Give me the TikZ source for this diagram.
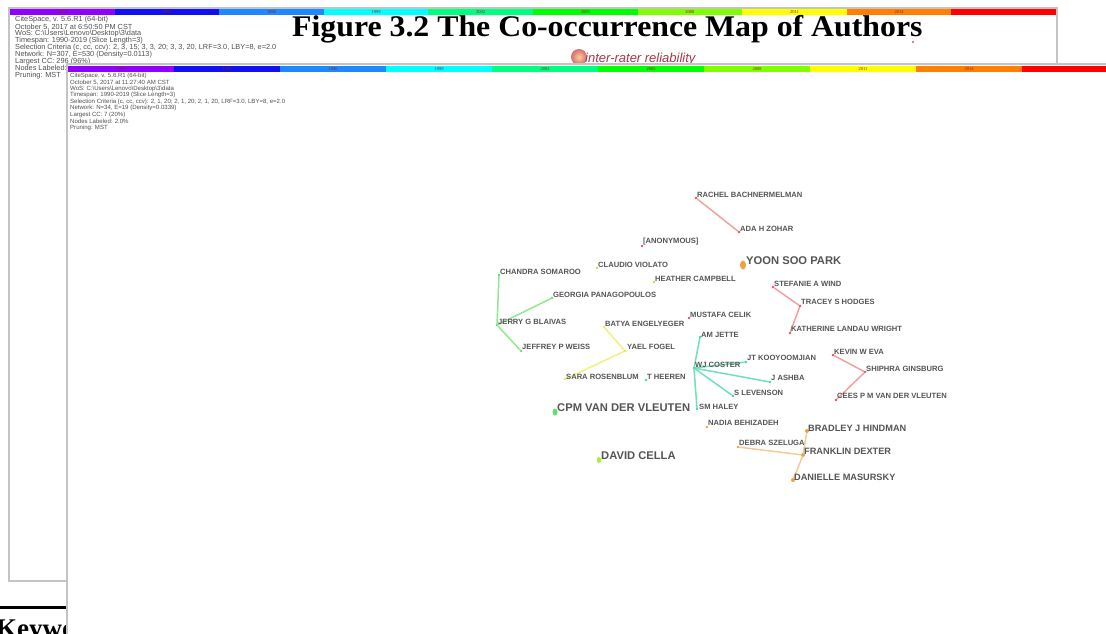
\documentclass[tikz,border=0pt]{standalone}
\usepackage{fontspec}
\setmainfont{Liberation Serif}
\newfontfamily\arial{Liberation Sans}
\usetikzlibrary{shapes.geometric}
\definecolor{frame}{HTML}{C4C4C4}
\definecolor{hdr}{HTML}{505050}
\definecolor{lblgray}{HTML}{555555}
\definecolor{yrlab}{HTML}{8A2020}
\definecolor{cPurple}{HTML}{9000FF}
\definecolor{cBlue}{HTML}{1010F0}
\definecolor{cLBlue}{HTML}{1E88FF}
\definecolor{cCyan}{HTML}{00FFFF}
\definecolor{cAqua}{HTML}{00FF80}
\definecolor{cGreen}{HTML}{00FF00}
\definecolor{cYG}{HTML}{80FF00}
\definecolor{cYellow}{HTML}{FFFF00}
\definecolor{cOrange}{HTML}{FF8000}
\definecolor{cRed}{HTML}{FF0000}
\definecolor{ePink}{HTML}{F2A0A4}
\definecolor{eGreen}{HTML}{90E890}
\definecolor{eYellow}{HTML}{F2F080}
\definecolor{eMint}{HTML}{70E0C0}
\definecolor{eOrange}{HTML}{F8C898}
\definecolor{dRed}{HTML}{E05060}
\definecolor{dGreen}{HTML}{60E070}
\definecolor{dYG}{HTML}{A8F040}
\definecolor{dYellow}{HTML}{E8E840}
\definecolor{dMint}{HTML}{40D8A0}
\definecolor{dOrange}{HTML}{F0A040}
\definecolor{irr}{HTML}{A83848}
\tikzset{
  lbl/.style={anchor=west, inner sep=0pt, text=lblgray, font=\arial\bfseries\fontsize{7.6}{8}\selectfont},
  lblm/.style={lbl, font=\arial\bfseries\fontsize{9.2}{10}\selectfont},
  lblb/.style={lbl, font=\arial\bfseries\fontsize{11.2}{12}\selectfont},
  dot/.style={circle, inner sep=0pt, minimum size=2.8pt, fill=#1},
  bigdot/.style={ellipse, inner sep=0pt, minimum width=6pt, minimum height=9pt, fill=#1},
  edge/.style={line width=1.5pt, draw=#1, line cap=round},
  hdrA/.style={anchor=west, inner sep=0pt, text=hdr, font=\arial\fontsize{7.35}{8}\selectfont},
  hdrB/.style={anchor=west, inner sep=0pt, text=hdr, font=\arial\fontsize{6.05}{6.5}\selectfont},
  yr/.style={inner sep=0pt, text=yrlab, font=\fontsize{4.5}{5}\selectfont},
  winframe/.style={draw=frame, line width=2pt, fill=white},
}
\begin{document}
\begin{tikzpicture}[x=1pt,y=-1pt]
\useasboundingbox (0,0) rectangle (1106,634);
\clip (0,0) rectangle (1106,634);
% ---------- first window ----------
\draw[winframe] (9,8) rectangle (1057,581);
\foreach \c [count=\i from 0] in {cPurple,cBlue,cLBlue,cCyan,cAqua,cGreen,cYG,cYellow,cOrange,cRed}{
  \fill[\c] (10+\i*104.6,9) rectangle (10+\i*104.6+104.6,15);
}
\foreach \y [count=\i from 0] in {1990,1993,1996,1999,2002,2005,2008,2011,2014}{
  \node[yr] (ya\i) at (62.3+\i*104.6,12) {\y};
}
\foreach \t [count=\i from 0] in {
  {CiteSpace, v. 5.6.R1 (64-bit)},
  {October 5, 2017 at 6:50:50 PM CST},
  {WoS: C:\textbackslash Users\textbackslash Lenovo\textbackslash Desktop\textbackslash 3\textbackslash data},
  {Timespan: 1990-2019 (Slice Length=3)},
  {Selection Criteria (c, cc, ccv): 2, 3, 15; 3, 3, 20; 3, 3, 20, LRF=3.0, LBY=8, e=2.0},
  {Network: N=307, E=530 (Density=0.0113)},
  {Largest CC: 296 (96\%)},
  {Nodes Labeled: 2.0\%},
  {Pruning: MST}}{
  \node[hdrA] (ha\i) at (15,20+\i*6.9) {\t};
}
\node[anchor=base west, inner sep=0pt, font=\bfseries\fontsize{30}{31}\selectfont] (title) at (292,37) {\scalebox{1.06}[1]{Figure 3.2 The Co-occurrence Map of Authors}};
\fill[dRed] (913,42) circle (1.1);
\shade[inner color=orange!55, outer color=red!70!black!80, opacity=0.7] (579,57) circle (8);
\node[anchor=base west, inner sep=0pt, text=irr, font=\arial\itshape\fontsize{13}{14}\selectfont] (irrlbl) at (585,62.5) {inter-rater reliability};
% bottom-left remnants
\draw[line width=2.7pt] (0,607.3) -- (67,607.3);
\node[anchor=base west, inner sep=0pt, font=\bfseries\fontsize{27}{28}\selectfont] (kw) at (-4,637) {Keywords};
% ---------- second window ----------
\draw[winframe] (67,64) rectangle (1130,660);
\foreach \c [count=\i from 0] in {cPurple,cBlue,cLBlue,cCyan,cAqua,cGreen,cYG,cYellow,cOrange,cRed}{
  \fill[\c] (68+\i*106,66.5) rectangle (68+\i*106+106,72);
}
\foreach \y [count=\i from 0] in {1990,1993,1996,1999,2002,2005,2008,2011,2014}{
  \node[yr] (yb\i) at (121+\i*106,69.3) {\y};
}
\foreach \t [count=\i from 0] in {
  {CiteSpace, v. 5.6.R1 (64-bit)},
  {October 5, 2017 at 11:27:40 AM CST},
  {WoS: C:\textbackslash Users\textbackslash Lenovo\textbackslash Desktop\textbackslash 3\textbackslash data},
  {Timespan: 1990-2019 (Slice Length=3)},
  {Selection Criteria (c, cc, ccv): 2, 1, 20; 2, 1, 20; 2, 1, 20, LRF=3.0, LBY=8, e=2.0},
  {Network: N=34, E=19 (Density=0.0339)},
  {Largest CC: 7 (20\%)},
  {Nodes Labeled: 2.0\%},
  {Pruning: MST}}{
  \node[hdrB] (hb\i) at (70,76+\i*6.45) {\t};
}
% ---------- dots ----------
\node[dot=dRed] (rb) at (696,198) {};
\node[dot=dRed] (az) at (739,232) {};
\node[dot=dRed] (an) at (642,246) {};
\node[bigdot=dOrange] (ys) at (743,265) {};
\node[dot=dYG] (cv) at (597,268) {};
\node[dot=dGreen] (cs) at (499,275) {};
\node[dot=dYG] (hc) at (654,282) {};
\node[dot=dGreen] (gp) at (552,298) {};
\node[dot=dRed] (mc) at (689,318) {};
\node[dot=dGreen] (jb) at (497,325) {};
\node[dot=dYellow] (be) at (604,327) {};
\node[dot=dMint] (aj) at (700,337) {};
\node[dot=dGreen] (jw) at (521,351) {};
\node[dot=dYellow] (yf) at (625,351) {};
\node[dot=dMint] (wj) at (694,368) {};
\node[dot=dMint] (th) at (646,380) {};
\node[dot=dMint] (jt) at (746,362) {};
\node[dot=dMint] (ja) at (770,382) {};
\node[dot=dMint] (sl) at (733,396) {};
\node[dot=dMint] (sm) at (697,409) {};
\node[dot=dYellow] (sr) at (565,379) {};
\node[bigdot=dGreen, minimum width=5pt, minimum height=7pt] (cp) at (555,412) {};
\node[dot=dOrange] (nb) at (707,427) {};
\node[dot=dOrange, minimum size=4pt] (bh) at (807,431) {};
\node[dot=dOrange] (ds) at (738,447) {};
\node[dot=dOrange, minimum size=4pt] (fd) at (803,455) {};
\node[bigdot=dYG, minimum width=4.5pt, minimum height=6pt] (dc) at (599,460) {};
\node[dot=dOrange, minimum size=4pt] (dm) at (793,480) {};
\node[dot=dRed] (sw) at (773,287) {};
\node[dot=dRed] (tsh) at (800,306) {};
\node[dot=dRed] (kl) at (790,333) {};
\node[dot=dRed] (ke) at (833,355) {};
\node[dot=dRed] (sg) at (865,372) {};
\node[dot=dRed] (cc) at (836,400) {};
% ---------- edges ----------
\draw[edge=ePink] (rb) -- (az);
\draw[edge=ePink] (sw) -- (tsh) -- (kl);
\draw[edge=ePink] (ke) -- (sg) -- (cc);
\draw[edge=eGreen] (cs) -- (jb);
\draw[edge=eGreen] (gp) -- (jb);
\draw[edge=eGreen] (jb) -- (jw);
\draw[edge=eYellow] (be) -- (yf) -- (sr);
\draw[edge=eMint] (wj) -- (aj);
\draw[edge=eMint] (wj) -- (jt);
\draw[edge=eMint] (wj) -- (ja);
\draw[edge=eMint] (wj) -- (sl);
\draw[edge=eMint] (wj) -- (sm);
\draw[edge=eOrange] (bh) -- (fd);
\draw[edge=eOrange] (ds) -- (fd);
\draw[edge=eOrange] (fd) -- (dm);
% ---------- labels ----------
\node[lbl] (rbl) at ([xshift=1pt,yshift=3pt]rb) {RACHEL BACHNERMELMAN};
\node[lbl] (azl) at ([xshift=1pt,yshift=3pt]az) {ADA H ZOHAR};
\node[lbl] (anl) at ([xshift=1pt,yshift=4pt]an) {[ANONYMOUS]};
\node[lblb] (ysl) at ([xshift=3pt,yshift=4.5pt]ys) {YOON SOO PARK};
\node[lbl] (cvl) at ([xshift=1pt,yshift=3pt]cv) {CLAUDIO VIOLATO};
\node[lbl] (csl) at ([xshift=1pt,yshift=3pt]cs) {CHANDRA SOMAROO};
\node[lbl] (hcl) at ([xshift=1pt,yshift=3pt]hc) {HEATHER CAMPBELL};
\node[lbl] (gpl) at ([xshift=1pt,yshift=3pt]gp) {GEORGIA PANAGOPOULOS};
\node[lbl] (mcl) at ([xshift=1pt,yshift=3pt]mc) {MUSTAFA CELIK};
\node[lbl] (jbl) at ([xshift=1pt,yshift=3pt]jb) {JERRY G BLAIVAS};
\node[lbl] (bel) at ([xshift=1pt,yshift=3pt]be) {BATYA ENGELYEGER};
\node[lbl] (ajl) at ([xshift=1pt,yshift=2pt]aj) {AM JETTE};
\node[lbl] (jwl) at ([xshift=1pt,yshift=4pt]jw) {JEFFREY P WEISS};
\node[lbl] (yfl) at ([xshift=2pt,yshift=4pt]yf) {YAEL FOGEL};
\node[lbl] (wjl) at ([xshift=1pt,yshift=3pt]wj) {WJ COSTER};
\node[lbl] (thl) at ([xshift=1pt,yshift=3pt]th) {T HEEREN};
\node[lbl] (jtl) at ([xshift=1pt,yshift=4pt]jt) {JT KOOYOOMJIAN};
\node[lbl] (jal) at ([xshift=1pt,yshift=4pt]ja) {J ASHBA};
\node[lbl] (sll) at ([xshift=1pt,yshift=3pt]sl) {S LEVENSON};
\node[lbl] (sml) at ([xshift=2pt,yshift=2pt]sm) {SM HALEY};
\node[lbl] (srl) at ([xshift=1pt,yshift=2pt]sr) {SARA ROSENBLUM};
\node[lblb] (cpl) at ([xshift=2pt,yshift=4pt]cp) {CPM VAN DER VLEUTEN};
\node[lbl] (nbl) at ([xshift=1pt,yshift=4pt]nb) {NADIA BEHIZADEH};
\node[lblm] (bhl) at ([xshift=1pt,yshift=3pt]bh) {BRADLEY J HINDMAN};
\node[lbl] (dsl) at ([xshift=1pt,yshift=4pt]ds) {DEBRA SZELUGA};
\node[lblm] (fdl) at ([xshift=1pt,yshift=4pt]fd) {FRANKLIN DEXTER};
\node[lblb] (dcl) at ([xshift=2pt,yshift=4pt]dc) {DAVID CELLA};
\node[lblm] (dml) at ([xshift=1pt,yshift=3pt]dm) {DANIELLE MASURSKY};
\node[lbl] (swl) at ([xshift=1pt,yshift=3pt]sw) {STEFANIE A WIND};
\node[lbl] (tshl) at ([xshift=1pt,yshift=4pt]tsh) {TRACEY S HODGES};
\node[lbl] (kll) at ([xshift=1pt,yshift=4pt]kl) {KATHERINE LANDAU WRIGHT};
\node[lbl] (kel) at ([xshift=1pt,yshift=3pt]ke) {KEVIN W EVA};
\node[lbl] (sgl) at ([xshift=1pt,yshift=3pt]sg) {SHIPHRA GINSBURG};
\node[lbl] (ccl) at ([xshift=1pt,yshift=4pt]cc) {CEES P M VAN DER VLEUTEN};
\end{tikzpicture}
\end{document}
